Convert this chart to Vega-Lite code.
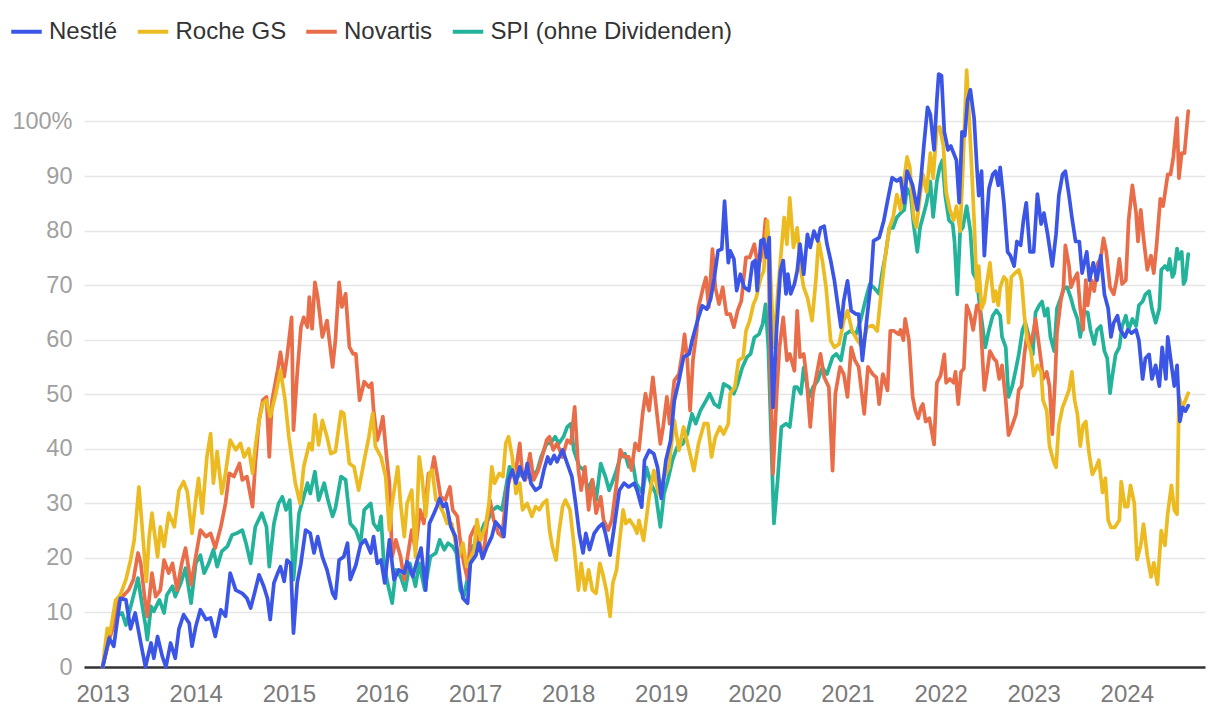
{
  "$schema": "https://vega.github.io/schema/vega-lite/v6.json",
  "width": 1121,
  "height": 611,
  "autosize": {"type": "none"},
  "padding": {"left": 84, "top": 56, "right": 15, "bottom": 49},
  "background": "white",
  "config": {"font": "Liberation Sans", "view": {"stroke": null}},
  "datasets": {
    "nestle": [
      {"t":2013.00,"v":0},{"t":2013.07,"v":5.3},{"t":2013.12,"v":3.8},{"t":2013.19,"v":12.6},{"t":2013.25,"v":12.3},{"t":2013.30,"v":7},{"t":2013.35,"v":9.9},{"t":2013.41,"v":4.4},{"t":2013.46,"v":0},{"t":2013.52,"v":4.4},{"t":2013.55,"v":1.6},{"t":2013.59,"v":5.6},{"t":2013.64,"v":2},{"t":2013.68,"v":0},{"t":2013.73,"v":4.4},{"t":2013.78,"v":1.6},{"t":2013.82,"v":7},{"t":2013.87,"v":9.6},{"t":2013.93,"v":8},{"t":2013.96,"v":3.8},
      {"t":2014.00,"v":7.4},{"t":2014.05,"v":10.5},{"t":2014.11,"v":8.7},{"t":2014.16,"v":9},{"t":2014.21,"v":5.6},{"t":2014.27,"v":10.5},{"t":2014.32,"v":9.3},{"t":2014.37,"v":17.2},{"t":2014.43,"v":14.1},{"t":2014.50,"v":13.5},{"t":2014.55,"v":12.6},{"t":2014.59,"v":10.8},{"t":2014.64,"v":14.1},{"t":2014.68,"v":16.9},{"t":2014.73,"v":14.8},{"t":2014.77,"v":12.6},{"t":2014.80,"v":8.7},{"t":2014.84,"v":15.4},{"t":2014.88,"v":17.2},{"t":2014.91,"v":18.4},{"t":2014.95,"v":15.7},{"t":2014.98,"v":19.6},
      {"t":2015.02,"v":19},{"t":2015.05,"v":6.2},{"t":2015.09,"v":15.4},{"t":2015.13,"v":19},{"t":2015.18,"v":25.1},{"t":2015.23,"v":24.5},{"t":2015.27,"v":20.9},{"t":2015.31,"v":23.9},{"t":2015.36,"v":20.2},{"t":2015.41,"v":17.8},{"t":2015.47,"v":13.5},{"t":2015.50,"v":12.6},{"t":2015.54,"v":19.6},{"t":2015.59,"v":20.2},{"t":2015.63,"v":22.7},{"t":2015.66,"v":16},{"t":2015.72,"v":18.7},{"t":2015.77,"v":22.4},{"t":2015.82,"v":23.3},{"t":2015.88,"v":20.9},{"t":2015.91,"v":23.9},{"t":2015.95,"v":19},{"t":2015.99,"v":19.6},
      {"t":2016.03,"v":15.4},{"t":2016.08,"v":23.3},{"t":2016.13,"v":16},{"t":2016.18,"v":17.8},{"t":2016.24,"v":17.2},{"t":2016.27,"v":19.3},{"t":2016.33,"v":16.6},{"t":2016.38,"v":19.6},{"t":2016.42,"v":21.8},{"t":2016.47,"v":14.1},{"t":2016.51,"v":26.3},{"t":2016.56,"v":28.2},{"t":2016.59,"v":29.4},{"t":2016.62,"v":30.9},{"t":2016.66,"v":29.4},{"t":2016.69,"v":30},{"t":2016.74,"v":25.7},{"t":2016.79,"v":23.9},{"t":2016.84,"v":16},{"t":2016.87,"v":12.6},{"t":2016.92,"v":11.7},{"t":2016.95,"v":19},
      {"t":2017.01,"v":20.5},{"t":2017.04,"v":22.7},{"t":2017.08,"v":19.9},{"t":2017.13,"v":22.1},{"t":2017.18,"v":23.9},{"t":2017.22,"v":26.6},{"t":2017.28,"v":25.4},{"t":2017.31,"v":23.9},{"t":2017.36,"v":34.3},{"t":2017.40,"v":36.1},{"t":2017.44,"v":33.7},{"t":2017.48,"v":36.7},{"t":2017.53,"v":34.3},{"t":2017.56,"v":37.3},{"t":2017.60,"v":33.7},{"t":2017.65,"v":32.4},{"t":2017.70,"v":33},{"t":2017.74,"v":36.1},{"t":2017.78,"v":38.5},{"t":2017.81,"v":37.3},{"t":2017.85,"v":38.8},{"t":2017.88,"v":37.6},{"t":2017.94,"v":39.8},{"t":2017.99,"v":37.3},
      {"t":2018.04,"v":34.9},{"t":2018.08,"v":30},{"t":2018.12,"v":24.5},{"t":2018.16,"v":20.9},{"t":2018.19,"v":24.5},{"t":2018.23,"v":21.5},{"t":2018.28,"v":24.5},{"t":2018.33,"v":25.7},{"t":2018.37,"v":26.3},{"t":2018.40,"v":24.5},{"t":2018.45,"v":20.5},{"t":2018.49,"v":25.1},{"t":2018.55,"v":32.4},{"t":2018.60,"v":33.7},{"t":2018.65,"v":33},{"t":2018.71,"v":33.7},{"t":2018.74,"v":32.4},{"t":2018.79,"v":29.3},{"t":2018.82,"v":37.9},{"t":2018.87,"v":39.7},{"t":2018.92,"v":39.1},{"t":2018.96,"v":36.6},
      {"t":2019.00,"v":30.9},{"t":2019.05,"v":37.9},{"t":2019.10,"v":41.5},{"t":2019.14,"v":48.8},{"t":2019.19,"v":52.5},{"t":2019.24,"v":56.8},{"t":2019.30,"v":57.4},{"t":2019.33,"v":59.8},{"t":2019.37,"v":62.3},{"t":2019.40,"v":64.1},{"t":2019.44,"v":66.2},{"t":2019.49,"v":65.6},{"t":2019.53,"v":67.4},{"t":2019.57,"v":71.4},{"t":2019.61,"v":76.3},{"t":2019.65,"v":76.6},{"t":2019.68,"v":85.4},{"t":2019.72,"v":74.1},{"t":2019.74,"v":76.3},{"t":2019.78,"v":74.8},{"t":2019.81,"v":69},{"t":2019.85,"v":72},{"t":2019.89,"v":69.6},{"t":2019.94,"v":69},{"t":2019.98,"v":74.1},
      {"t":2020.01,"v":74.5},{"t":2020.03,"v":69},{"t":2020.07,"v":78.1},{"t":2020.10,"v":78.4},{"t":2020.13,"v":75.1},{"t":2020.16,"v":78.7},{"t":2020.17,"v":65.3},{"t":2020.20,"v":47.6},{"t":2020.24,"v":62.3},{"t":2020.28,"v":72.6},{"t":2020.31,"v":74.5},{"t":2020.34,"v":68.4},{"t":2020.36,"v":72},{"t":2020.39,"v":68.4},{"t":2020.43,"v":70.2},{"t":2020.46,"v":72.6},{"t":2020.49,"v":77.5},{"t":2020.53,"v":72},{"t":2020.57,"v":79.3},{"t":2020.60,"v":76.9},{"t":2020.64,"v":79.9},{"t":2020.68,"v":78.1},{"t":2020.71,"v":80.5},{"t":2020.75,"v":80.8},{"t":2020.78,"v":77.5},{"t":2020.82,"v":74.5},{"t":2020.86,"v":70.8},{"t":2020.89,"v":67.1},{"t":2020.93,"v":62.3},{"t":2020.96,"v":67.1},
      {"t":2021.00,"v":70.8},{"t":2021.04,"v":65.3},{"t":2021.09,"v":64.7},{"t":2021.12,"v":64.7},{"t":2021.16,"v":56.2},{"t":2021.21,"v":64.1},{"t":2021.25,"v":70.2},{"t":2021.28,"v":78.1},{"t":2021.34,"v":78.7},{"t":2021.39,"v":81.8},{"t":2021.43,"v":85.4},{"t":2021.48,"v":89.7},{"t":2021.53,"v":89.1},{"t":2021.57,"v":89.6},{"t":2021.61,"v":85.1},{"t":2021.64,"v":90.9},{"t":2021.70,"v":88.3},{"t":2021.75,"v":83.8},{"t":2021.79,"v":89.6},{"t":2021.82,"v":95.5},{"t":2021.86,"v":102.6},{"t":2021.89,"v":101.3},{"t":2021.93,"v":94.8},{"t":2021.96,"v":103.9},{"t":2021.98,"v":108.7},
      {"t":2022.01,"v":108.4},{"t":2022.04,"v":98.1},{"t":2022.08,"v":94.8},{"t":2022.11,"v":95.5},{"t":2022.14,"v":94.2},{"t":2022.17,"v":92.9},{"t":2022.20,"v":85.1},{"t":2022.23,"v":98.1},{"t":2022.26,"v":97.4},{"t":2022.29,"v":103.9},{"t":2022.32,"v":105.8},{"t":2022.36,"v":100.6},{"t":2022.39,"v":91.6},{"t":2022.41,"v":86.4},{"t":2022.44,"v":90.9},{"t":2022.47,"v":75.4},{"t":2022.50,"v":83.2},{"t":2022.52,"v":87.7},{"t":2022.56,"v":90.3},{"t":2022.59,"v":90.9},{"t":2022.62,"v":88.3},{"t":2022.64,"v":91.6},{"t":2022.68,"v":85.1},{"t":2022.72,"v":76.1},{"t":2022.75,"v":75.4},{"t":2022.79,"v":73.5},{"t":2022.82,"v":78},{"t":2022.86,"v":77.3},{"t":2022.89,"v":81.9},{"t":2022.92,"v":85.1},{"t":2022.96,"v":76.1},
      {"t":2023.00,"v":76.1},{"t":2023.04,"v":86.7},{"t":2023.08,"v":81.2},{"t":2023.11,"v":83.2},{"t":2023.15,"v":79.3},{"t":2023.20,"v":73.5},{"t":2023.24,"v":79.3},{"t":2023.27,"v":86.4},{"t":2023.31,"v":90.3},{"t":2023.34,"v":90.9},{"t":2023.38,"v":86.4},{"t":2023.41,"v":82.5},{"t":2023.45,"v":78},{"t":2023.49,"v":78},{"t":2023.52,"v":72.2},{"t":2023.57,"v":76.1},{"t":2023.60,"v":70.9},{"t":2023.64,"v":74.1},{"t":2023.68,"v":70.9},{"t":2023.72,"v":75.4},{"t":2023.76,"v":68.3},{"t":2023.80,"v":65.7},{"t":2023.83,"v":60.5},{"t":2023.86,"v":63.1},{"t":2023.90,"v":64.4},{"t":2023.93,"v":61.8},{"t":2023.98,"v":60.5},
      {"t":2024.01,"v":61.8},{"t":2024.05,"v":61.2},{"t":2024.10,"v":61.8},{"t":2024.13,"v":59.9},{"t":2024.17,"v":52.8},{"t":2024.20,"v":56.6},{"t":2024.24,"v":57.3},{"t":2024.27,"v":52.8},{"t":2024.31,"v":55.3},{"t":2024.35,"v":51.5},{"t":2024.38,"v":58.6},{"t":2024.42,"v":52.8},{"t":2024.44,"v":60.5},{"t":2024.48,"v":55.3},{"t":2024.51,"v":51.5},{"t":2024.54,"v":55.3},{"t":2024.57,"v":45},{"t":2024.60,"v":47.6},{"t":2024.63,"v":46.9},{"t":2024.66,"v":47.9}
    ],
    "roche": [
      {"t":2013.00,"v":0},{"t":2013.05,"v":7.1},{"t":2013.08,"v":6.2},{"t":2013.14,"v":12.3},{"t":2013.19,"v":13.2},{"t":2013.25,"v":16},{"t":2013.30,"v":19.6},{"t":2013.34,"v":23.3},{"t":2013.39,"v":33},{"t":2013.43,"v":24.5},{"t":2013.47,"v":15.7},{"t":2013.50,"v":23.9},{"t":2013.53,"v":28.2},{"t":2013.59,"v":20.2},{"t":2013.62,"v":25.7},{"t":2013.66,"v":22.1},{"t":2013.71,"v":28.2},{"t":2013.77,"v":25.7},{"t":2013.82,"v":32.4},{"t":2013.87,"v":34},{"t":2013.91,"v":32.1},{"t":2013.96,"v":24.5},
      {"t":2014.00,"v":30.6},{"t":2014.03,"v":34.6},{"t":2014.07,"v":28.2},{"t":2014.12,"v":38.5},{"t":2014.16,"v":42.8},{"t":2014.19,"v":33.7},{"t":2014.23,"v":39.5},{"t":2014.28,"v":31.8},{"t":2014.32,"v":35.5},{"t":2014.37,"v":41.6},{"t":2014.43,"v":39.8},{"t":2014.48,"v":41},{"t":2014.52,"v":38.5},{"t":2014.57,"v":40},{"t":2014.61,"v":35.5},{"t":2014.64,"v":40.4},{"t":2014.68,"v":45.2},{"t":2014.72,"v":48.3},{"t":2014.76,"v":48.9},{"t":2014.80,"v":45.9},{"t":2014.86,"v":50.1},{"t":2014.91,"v":54.4},{"t":2014.96,"v":48.9},
      {"t":2015.00,"v":42.2},{"t":2015.07,"v":33.7},{"t":2015.12,"v":30},{"t":2015.16,"v":36.7},{"t":2015.22,"v":41},{"t":2015.25,"v":39.8},{"t":2015.28,"v":46.2},{"t":2015.32,"v":40.7},{"t":2015.36,"v":45.2},{"t":2015.41,"v":42.2},{"t":2015.45,"v":39.1},{"t":2015.50,"v":39.5},{"t":2015.56,"v":46.8},{"t":2015.59,"v":46.5},{"t":2015.65,"v":37.3},{"t":2015.70,"v":36.7},{"t":2015.75,"v":32.4},{"t":2015.81,"v":37.9},{"t":2015.86,"v":42.2},{"t":2015.90,"v":46.5},{"t":2015.93,"v":40.4},{"t":2015.99,"v":38.5},
      {"t":2016.04,"v":34.9},{"t":2016.08,"v":25.1},{"t":2016.11,"v":30},{"t":2016.17,"v":36.7},{"t":2016.20,"v":30},{"t":2016.24,"v":23.9},{"t":2016.27,"v":30},{"t":2016.32,"v":32.4},{"t":2016.36,"v":20.2},{"t":2016.40,"v":38.5},{"t":2016.43,"v":34.9},{"t":2016.47,"v":27.6},{"t":2016.51,"v":35.5},{"t":2016.54,"v":36.1},{"t":2016.58,"v":30.6},{"t":2016.61,"v":30},{"t":2016.66,"v":28.2},{"t":2016.70,"v":26.3},{"t":2016.75,"v":26.3},{"t":2016.79,"v":22.7},{"t":2016.83,"v":20.2},{"t":2016.87,"v":22.7},{"t":2016.91,"v":18.4},{"t":2016.94,"v":19.6},{"t":2016.99,"v":21.5},
      {"t":2017.02,"v":27},{"t":2017.06,"v":23.3},{"t":2017.11,"v":25.7},{"t":2017.15,"v":30},{"t":2017.18,"v":36.7},{"t":2017.21,"v":33.7},{"t":2017.26,"v":35.5},{"t":2017.30,"v":34.9},{"t":2017.33,"v":41},{"t":2017.36,"v":42.2},{"t":2017.40,"v":38.5},{"t":2017.44,"v":31.8},{"t":2017.48,"v":33.7},{"t":2017.51,"v":28.8},{"t":2017.56,"v":30},{"t":2017.61,"v":27.6},{"t":2017.65,"v":29.4},{"t":2017.69,"v":28.8},{"t":2017.73,"v":30},{"t":2017.77,"v":30.6},{"t":2017.80,"v":25.1},{"t":2017.83,"v":22.1},{"t":2017.87,"v":19.6},{"t":2017.90,"v":24.5},{"t":2017.94,"v":29.4},{"t":2017.97,"v":30.6},
      {"t":2018.02,"v":28.8},{"t":2018.06,"v":22.7},{"t":2018.11,"v":14.1},{"t":2018.14,"v":19},{"t":2018.18,"v":14.1},{"t":2018.22,"v":17.8},{"t":2018.26,"v":14.1},{"t":2018.30,"v":13.5},{"t":2018.34,"v":19},{"t":2018.37,"v":17.2},{"t":2018.41,"v":14.1},{"t":2018.45,"v":9.3},{"t":2018.48,"v":15.4},{"t":2018.52,"v":17.8},{"t":2018.55,"v":22.7},{"t":2018.59,"v":28.8},{"t":2018.62,"v":26.3},{"t":2018.66,"v":27},{"t":2018.71,"v":25.7},{"t":2018.74,"v":24.5},{"t":2018.76,"v":26.9},{"t":2018.81,"v":23.2},{"t":2018.87,"v":31.2},{"t":2018.92,"v":36},{"t":2018.97,"v":31.8},
      {"t":2019.03,"v":34.8},{"t":2019.08,"v":36.6},{"t":2019.14,"v":45.2},{"t":2019.19,"v":39.7},{"t":2019.24,"v":44},{"t":2019.30,"v":39.7},{"t":2019.35,"v":36},{"t":2019.40,"v":40.9},{"t":2019.46,"v":44.6},{"t":2019.50,"v":44.6},{"t":2019.54,"v":38.5},{"t":2019.58,"v":42.1},{"t":2019.63,"v":44},{"t":2019.67,"v":42.7},{"t":2019.72,"v":44.6},{"t":2019.74,"v":50.1},{"t":2019.79,"v":51.3},{"t":2019.83,"v":56.2},{"t":2019.88,"v":56.8},{"t":2019.91,"v":61.6},{"t":2019.95,"v":63.5},{"t":2019.99,"v":66.5},
      {"t":2020.02,"v":67.7},{"t":2020.07,"v":71.4},{"t":2020.10,"v":72.6},{"t":2020.14,"v":81.8},{"t":2020.17,"v":73.2},{"t":2020.21,"v":58.6},{"t":2020.25,"v":68.4},{"t":2020.28,"v":74.5},{"t":2020.32,"v":82.4},{"t":2020.35,"v":77.5},{"t":2020.38,"v":86},{"t":2020.42,"v":76.9},{"t":2020.46,"v":80.5},{"t":2020.50,"v":72.6},{"t":2020.53,"v":69.6},{"t":2020.57,"v":67.7},{"t":2020.62,"v":63.5},{"t":2020.66,"v":70.8},{"t":2020.69,"v":78.1},{"t":2020.73,"v":74.5},{"t":2020.77,"v":69.6},{"t":2020.82,"v":59.8},{"t":2020.86,"v":58.6},{"t":2020.91,"v":59.2},{"t":2020.96,"v":63.5},
      {"t":2021.00,"v":65.3},{"t":2021.05,"v":61.6},{"t":2021.11,"v":59.8},{"t":2021.16,"v":58.6},{"t":2021.21,"v":62.3},{"t":2021.27,"v":62.6},{"t":2021.32,"v":61.6},{"t":2021.36,"v":68.4},{"t":2021.40,"v":74.5},{"t":2021.45,"v":80.5},{"t":2021.49,"v":82.4},{"t":2021.53,"v":86.6},{"t":2021.57,"v":83.8},{"t":2021.61,"v":89.6},{"t":2021.64,"v":93.5},{"t":2021.67,"v":91.6},{"t":2021.71,"v":82.5},{"t":2021.74,"v":80.6},{"t":2021.78,"v":86.4},{"t":2021.81,"v":90.3},{"t":2021.85,"v":87.1},{"t":2021.89,"v":94.2},{"t":2021.92,"v":89.6},{"t":2021.96,"v":98.7},{"t":2021.99,"v":99},
      {"t":2022.03,"v":95.5},{"t":2022.06,"v":87.1},{"t":2022.10,"v":83.8},{"t":2022.14,"v":81.9},{"t":2022.17,"v":84.5},{"t":2022.21,"v":79.9},{"t":2022.24,"v":91.6},{"t":2022.28,"v":109.4},{"t":2022.30,"v":103.2},{"t":2022.33,"v":92.9},{"t":2022.36,"v":81.9},{"t":2022.39,"v":68.9},{"t":2022.41,"v":73.5},{"t":2022.44,"v":65.7},{"t":2022.47,"v":67},{"t":2022.49,"v":69.6},{"t":2022.53,"v":74.1},{"t":2022.57,"v":67},{"t":2022.59,"v":68.9},{"t":2022.62,"v":66.3},{"t":2022.64,"v":69.6},{"t":2022.68,"v":71.5},{"t":2022.71,"v":70.9},{"t":2022.73,"v":63.1},{"t":2022.76,"v":71.5},{"t":2022.80,"v":72.2},{"t":2022.84,"v":72.8},{"t":2022.87,"v":70.9},{"t":2022.90,"v":64.4},{"t":2022.93,"v":59.9},{"t":2022.97,"v":57.9},
      {"t":2023.00,"v":53.4},{"t":2023.04,"v":55.3},{"t":2023.08,"v":54.1},{"t":2023.10,"v":48.9},{"t":2023.14,"v":47},{"t":2023.17,"v":40.5},{"t":2023.21,"v":37.9},{"t":2023.24,"v":36.6},{"t":2023.27,"v":44.3},{"t":2023.31,"v":47.6},{"t":2023.34,"v":48.9},{"t":2023.38,"v":50.8},{"t":2023.41,"v":54.1},{"t":2023.44,"v":48.9},{"t":2023.47,"v":46.3},{"t":2023.50,"v":40.5},{"t":2023.53,"v":44.3},{"t":2023.56,"v":45},{"t":2023.59,"v":39.8},{"t":2023.63,"v":35.3},{"t":2023.67,"v":36.6},{"t":2023.70,"v":37.9},{"t":2023.74,"v":32},{"t":2023.77,"v":34.6},{"t":2023.80,"v":26.9},{"t":2023.83,"v":25.6},{"t":2023.87,"v":25.6},{"t":2023.92,"v":26.9},{"t":2023.94,"v":34},{"t":2023.98,"v":29.4},
      {"t":2024.01,"v":29.4},{"t":2024.04,"v":33.3},{"t":2024.08,"v":30.1},{"t":2024.11,"v":19.7},{"t":2024.15,"v":22.3},{"t":2024.18,"v":26.2},{"t":2024.22,"v":20.4},{"t":2024.26,"v":16.5},{"t":2024.29,"v":19.1},{"t":2024.33,"v":15.2},{"t":2024.37,"v":25},{"t":2024.41,"v":22.3},{"t":2024.44,"v":28.2},{"t":2024.48,"v":33.3},{"t":2024.51,"v":28.8},{"t":2024.54,"v":28},{"t":2024.56,"v":49.5},{"t":2024.60,"v":47.6},{"t":2024.63,"v":48.9},{"t":2024.66,"v":50.2}
    ],
    "novartis": [
      {"t":2013.00,"v":0},{"t":2013.07,"v":5},{"t":2013.12,"v":7.7},{"t":2013.17,"v":12.3},{"t":2013.23,"v":13.2},{"t":2013.28,"v":14.1},{"t":2013.33,"v":16},{"t":2013.38,"v":20.9},{"t":2013.41,"v":19},{"t":2013.45,"v":12.9},{"t":2013.48,"v":9.3},{"t":2013.53,"v":17.2},{"t":2013.57,"v":12.9},{"t":2013.62,"v":14.1},{"t":2013.66,"v":19.6},{"t":2013.71,"v":17.2},{"t":2013.75,"v":19},{"t":2013.80,"v":14.1},{"t":2013.85,"v":19},{"t":2013.89,"v":21.8},{"t":2013.95,"v":15.1},
      {"t":2014.00,"v":20.2},{"t":2014.05,"v":25.1},{"t":2014.11,"v":23.9},{"t":2014.16,"v":24.5},{"t":2014.21,"v":21.8},{"t":2014.27,"v":25.7},{"t":2014.32,"v":30},{"t":2014.36,"v":35.5},{"t":2014.41,"v":34.9},{"t":2014.47,"v":37.3},{"t":2014.50,"v":34.3},{"t":2014.55,"v":34.9},{"t":2014.61,"v":29.4},{"t":2014.64,"v":37.3},{"t":2014.68,"v":45.2},{"t":2014.72,"v":48.9},{"t":2014.76,"v":49.5},{"t":2014.79,"v":38.5},{"t":2014.82,"v":48.9},{"t":2014.88,"v":54.4},{"t":2014.91,"v":57.7},{"t":2014.95,"v":53.2},{"t":2014.98,"v":56.8},
      {"t":2015.03,"v":64.1},{"t":2015.05,"v":43.4},{"t":2015.09,"v":53.8},{"t":2015.13,"v":62.3},{"t":2015.16,"v":64.1},{"t":2015.20,"v":62.3},{"t":2015.22,"v":67.8},{"t":2015.25,"v":62},{"t":2015.28,"v":70.5},{"t":2015.31,"v":67.8},{"t":2015.36,"v":60.5},{"t":2015.41,"v":63.5},{"t":2015.47,"v":55},{"t":2015.50,"v":59.9},{"t":2015.54,"v":70.5},{"t":2015.57,"v":66},{"t":2015.61,"v":68.4},{"t":2015.65,"v":58.7},{"t":2015.69,"v":57.4},{"t":2015.72,"v":57.4},{"t":2015.76,"v":48.9},{"t":2015.81,"v":52.3},{"t":2015.86,"v":51.3},{"t":2015.89,"v":52},{"t":2015.91,"v":47.1},{"t":2015.95,"v":41.6},{"t":2015.98,"v":43.4},
      {"t":2016.01,"v":45.9},{"t":2016.05,"v":38.5},{"t":2016.08,"v":33.7},{"t":2016.11,"v":20.2},{"t":2016.15,"v":23.3},{"t":2016.20,"v":20.2},{"t":2016.24,"v":16},{"t":2016.27,"v":19.6},{"t":2016.32,"v":25.1},{"t":2016.36,"v":21.5},{"t":2016.41,"v":28.8},{"t":2016.45,"v":26.3},{"t":2016.50,"v":35.5},{"t":2016.53,"v":35.5},{"t":2016.56,"v":38.5},{"t":2016.59,"v":35.5},{"t":2016.63,"v":31.2},{"t":2016.68,"v":30.6},{"t":2016.73,"v":33},{"t":2016.76,"v":28.8},{"t":2016.81,"v":27.6},{"t":2016.84,"v":23.3},{"t":2016.88,"v":19},{"t":2016.92,"v":16},{"t":2016.95,"v":23.9},
      {"t":2017.00,"v":25.7},{"t":2017.04,"v":23.3},{"t":2017.09,"v":20.2},{"t":2017.12,"v":25.1},{"t":2017.16,"v":30.6},{"t":2017.20,"v":27},{"t":2017.25,"v":24.5},{"t":2017.29,"v":23.9},{"t":2017.34,"v":32.4},{"t":2017.38,"v":34.9},{"t":2017.44,"v":36.1},{"t":2017.48,"v":41},{"t":2017.51,"v":34.9},{"t":2017.54,"v":34.3},{"t":2017.59,"v":39.1},{"t":2017.63,"v":34.3},{"t":2017.68,"v":36.1},{"t":2017.72,"v":38.5},{"t":2017.77,"v":41.6},{"t":2017.80,"v":42.2},{"t":2017.84,"v":39.8},{"t":2017.88,"v":41},{"t":2017.94,"v":38.5},{"t":2017.99,"v":41.6},
      {"t":2018.03,"v":41},{"t":2018.07,"v":47.7},{"t":2018.11,"v":36.1},{"t":2018.14,"v":32.4},{"t":2018.18,"v":36.7},{"t":2018.22,"v":28.8},{"t":2018.26,"v":34.3},{"t":2018.30,"v":28.2},{"t":2018.35,"v":31.2},{"t":2018.38,"v":27},{"t":2018.43,"v":25.1},{"t":2018.47,"v":27},{"t":2018.52,"v":33.7},{"t":2018.56,"v":39.8},{"t":2018.60,"v":38.5},{"t":2018.65,"v":38.5},{"t":2018.68,"v":36.1},{"t":2018.72,"v":41},{"t":2018.76,"v":39.7},{"t":2018.80,"v":46.4},{"t":2018.83,"v":50.1},{"t":2018.87,"v":47},{"t":2018.91,"v":53.1},{"t":2018.95,"v":47},{"t":2018.99,"v":40.9},
      {"t":2019.02,"v":44},{"t":2019.06,"v":49.5},{"t":2019.09,"v":44.6},{"t":2019.14,"v":52.5},{"t":2019.19,"v":53.7},{"t":2019.23,"v":58},{"t":2019.25,"v":61},{"t":2019.28,"v":56.2},{"t":2019.31,"v":47},{"t":2019.34,"v":56.2},{"t":2019.38,"v":61.6},{"t":2019.40,"v":65.9},{"t":2019.45,"v":69.6},{"t":2019.48,"v":71.4},{"t":2019.51,"v":65.9},{"t":2019.55,"v":76.6},{"t":2019.58,"v":69.6},{"t":2019.62,"v":66.5},{"t":2019.66,"v":69.6},{"t":2019.70,"v":64.7},{"t":2019.74,"v":64.7},{"t":2019.78,"v":62.3},{"t":2019.82,"v":65.3},{"t":2019.86,"v":67.1},{"t":2019.91,"v":75.1},{"t":2019.95,"v":75.1},
      {"t":2020.00,"v":77.5},{"t":2020.04,"v":73.2},{"t":2020.09,"v":76.3},{"t":2020.12,"v":82.1},{"t":2020.15,"v":78.7},{"t":2020.17,"v":56.2},{"t":2020.20,"v":35.4},{"t":2020.24,"v":50.1},{"t":2020.27,"v":58.6},{"t":2020.31,"v":64.1},{"t":2020.35,"v":56.2},{"t":2020.38,"v":57.4},{"t":2020.43,"v":54.3},{"t":2020.46,"v":65.3},{"t":2020.49,"v":56.8},{"t":2020.53,"v":57.4},{"t":2020.56,"v":53.1},{"t":2020.60,"v":44},{"t":2020.63,"v":50.1},{"t":2020.67,"v":53.7},{"t":2020.71,"v":57.4},{"t":2020.75,"v":53.1},{"t":2020.80,"v":51.3},{"t":2020.84,"v":36},{"t":2020.87,"v":50.1},{"t":2020.92,"v":55},{"t":2020.96,"v":53.7},
      {"t":2021.00,"v":49.5},{"t":2021.04,"v":58.6},{"t":2021.08,"v":56.2},{"t":2021.12,"v":55},{"t":2021.18,"v":46.4},{"t":2021.22,"v":55},{"t":2021.27,"v":53.7},{"t":2021.31,"v":53.1},{"t":2021.34,"v":48.2},{"t":2021.38,"v":53.7},{"t":2021.43,"v":50.7},{"t":2021.46,"v":61.6},{"t":2021.50,"v":61.6},{"t":2021.55,"v":61},{"t":2021.57,"v":61.8},{"t":2021.60,"v":59.9},{"t":2021.62,"v":63.8},{"t":2021.66,"v":59.9},{"t":2021.70,"v":49.5},{"t":2021.73,"v":46.9},{"t":2021.76,"v":45.6},{"t":2021.79,"v":47.6},{"t":2021.81,"v":48.2},{"t":2021.84,"v":45},{"t":2021.88,"v":45.6},{"t":2021.90,"v":43.7},{"t":2021.93,"v":40.8},{"t":2021.96,"v":52.1},
      {"t":2022.00,"v":53.4},{"t":2022.04,"v":57.3},{"t":2022.06,"v":52.1},{"t":2022.10,"v":52.8},{"t":2022.14,"v":52.1},{"t":2022.16,"v":54.1},{"t":2022.19,"v":48.2},{"t":2022.22,"v":54.1},{"t":2022.25,"v":54.7},{"t":2022.28,"v":66.3},{"t":2022.32,"v":64.4},{"t":2022.35,"v":61.8},{"t":2022.39,"v":66.3},{"t":2022.42,"v":66.3},{"t":2022.44,"v":59.9},{"t":2022.47,"v":50.8},{"t":2022.50,"v":54.1},{"t":2022.53,"v":57.9},{"t":2022.57,"v":56.6},{"t":2022.60,"v":56},{"t":2022.63,"v":52.8},{"t":2022.66,"v":55.3},{"t":2022.70,"v":48.9},{"t":2022.73,"v":42.5},{"t":2022.77,"v":44.3},{"t":2022.81,"v":46.3},{"t":2022.84,"v":50.8},{"t":2022.87,"v":51.5},{"t":2022.90,"v":57.3},{"t":2022.93,"v":61.2},{"t":2022.97,"v":59.2},
      {"t":2023.00,"v":61.8},{"t":2023.02,"v":63.8},{"t":2023.05,"v":59.9},{"t":2023.08,"v":56},{"t":2023.10,"v":52.8},{"t":2023.14,"v":54.1},{"t":2023.17,"v":51.5},{"t":2023.20,"v":42.7},{"t":2023.23,"v":52.8},{"t":2023.25,"v":61.2},{"t":2023.29,"v":67},{"t":2023.32,"v":69.6},{"t":2023.34,"v":77.3},{"t":2023.38,"v":73.5},{"t":2023.40,"v":69.6},{"t":2023.43,"v":70.9},{"t":2023.47,"v":72.2},{"t":2023.50,"v":65.7},{"t":2023.53,"v":61.8},{"t":2023.56,"v":70.9},{"t":2023.58,"v":66.3},{"t":2023.62,"v":70.9},{"t":2023.65,"v":68.9},{"t":2023.69,"v":74.1},{"t":2023.72,"v":74.8},{"t":2023.75,"v":78.6},{"t":2023.78,"v":76.1},{"t":2023.82,"v":69.6},{"t":2023.86,"v":68.3},{"t":2023.89,"v":70.9},{"t":2023.92,"v":74.8},{"t":2023.95,"v":70.2},{"t":2023.99,"v":70.9},
      {"t":2024.02,"v":81.9},{"t":2024.06,"v":88.3},{"t":2024.10,"v":83.2},{"t":2024.12,"v":78},{"t":2024.15,"v":83.8},{"t":2024.18,"v":78.6},{"t":2024.22,"v":72.8},{"t":2024.26,"v":75.4},{"t":2024.29,"v":72.2},{"t":2024.32,"v":77.3},{"t":2024.36,"v":85.8},{"t":2024.39,"v":84.5},{"t":2024.44,"v":90.3},{"t":2024.47,"v":90.3},{"t":2024.50,"v":93.5},{"t":2024.54,"v":100.6},{"t":2024.56,"v":89.6},{"t":2024.59,"v":94.2},{"t":2024.62,"v":94.2},{"t":2024.66,"v":101.9}
    ],
    "spi": [
      {"t":2013.00,"v":0},{"t":2013.07,"v":5.3},{"t":2013.14,"v":9.3},{"t":2013.21,"v":9.9},{"t":2013.25,"v":7.7},{"t":2013.32,"v":12.3},{"t":2013.38,"v":16.3},{"t":2013.41,"v":12.9},{"t":2013.46,"v":7.7},{"t":2013.48,"v":5},{"t":2013.52,"v":11.1},{"t":2013.55,"v":10.2},{"t":2013.61,"v":12.3},{"t":2013.66,"v":9.9},{"t":2013.69,"v":13.2},{"t":2013.75,"v":14.8},{"t":2013.78,"v":12.9},{"t":2013.84,"v":15.4},{"t":2013.89,"v":18.1},{"t":2013.95,"v":11.7},
      {"t":2014.00,"v":19},{"t":2014.05,"v":20.5},{"t":2014.09,"v":17.2},{"t":2014.14,"v":19},{"t":2014.19,"v":21.5},{"t":2014.23,"v":18.4},{"t":2014.28,"v":21.2},{"t":2014.34,"v":22.1},{"t":2014.39,"v":24.2},{"t":2014.44,"v":24.5},{"t":2014.50,"v":25.1},{"t":2014.54,"v":22.7},{"t":2014.59,"v":19},{"t":2014.64,"v":25.7},{"t":2014.71,"v":28.2},{"t":2014.76,"v":25.7},{"t":2014.79,"v":18.4},{"t":2014.84,"v":26.3},{"t":2014.89,"v":30},{"t":2014.93,"v":31.2},{"t":2014.97,"v":28.8},
      {"t":2015.01,"v":30.6},{"t":2015.05,"v":16},{"t":2015.11,"v":28.2},{"t":2015.16,"v":31.2},{"t":2015.20,"v":33.7},{"t":2015.23,"v":31.8},{"t":2015.28,"v":35.8},{"t":2015.32,"v":30.6},{"t":2015.38,"v":33.7},{"t":2015.42,"v":30.6},{"t":2015.47,"v":27.6},{"t":2015.50,"v":29.1},{"t":2015.56,"v":34.9},{"t":2015.61,"v":34.3},{"t":2015.66,"v":26.3},{"t":2015.72,"v":25.1},{"t":2015.77,"v":22.7},{"t":2015.81,"v":28.8},{"t":2015.88,"v":30},{"t":2015.91,"v":26.3},{"t":2015.96,"v":25.1},{"t":2015.99,"v":27.6},
      {"t":2016.02,"v":19},{"t":2016.06,"v":15.4},{"t":2016.11,"v":11.7},{"t":2016.15,"v":17.8},{"t":2016.20,"v":16.6},{"t":2016.25,"v":14.1},{"t":2016.30,"v":19},{"t":2016.36,"v":14.8},{"t":2016.40,"v":19},{"t":2016.46,"v":14.1},{"t":2016.52,"v":20.2},{"t":2016.58,"v":20.9},{"t":2016.62,"v":23.3},{"t":2016.67,"v":21.5},{"t":2016.71,"v":22.7},{"t":2016.76,"v":22.1},{"t":2016.80,"v":20.9},{"t":2016.84,"v":14.1},{"t":2016.88,"v":12.9},{"t":2016.93,"v":17.2},{"t":2016.97,"v":22.1},
      {"t":2017.02,"v":22.7},{"t":2017.06,"v":24.5},{"t":2017.10,"v":26.3},{"t":2017.14,"v":27},{"t":2017.19,"v":28.8},{"t":2017.24,"v":29.4},{"t":2017.29,"v":28.8},{"t":2017.34,"v":33.7},{"t":2017.37,"v":36.7},{"t":2017.42,"v":36.1},{"t":2017.46,"v":34.9},{"t":2017.51,"v":35.5},{"t":2017.56,"v":34.9},{"t":2017.62,"v":34.9},{"t":2017.67,"v":36.1},{"t":2017.71,"v":38.5},{"t":2017.77,"v":41},{"t":2017.81,"v":41},{"t":2017.86,"v":42.2},{"t":2017.90,"v":41},{"t":2017.95,"v":42.2},{"t":2017.99,"v":44},
      {"t":2018.03,"v":44.6},{"t":2018.06,"v":39.8},{"t":2018.12,"v":36.7},{"t":2018.17,"v":36.1},{"t":2018.21,"v":32.4},{"t":2018.26,"v":34.3},{"t":2018.30,"v":30.6},{"t":2018.35,"v":37.3},{"t":2018.40,"v":34.9},{"t":2018.44,"v":32.4},{"t":2018.47,"v":33.7},{"t":2018.52,"v":36.1},{"t":2018.56,"v":38.5},{"t":2018.61,"v":39.1},{"t":2018.65,"v":36.7},{"t":2018.69,"v":37.9},{"t":2018.73,"v":33.7},{"t":2018.80,"v":31.8},{"t":2018.84,"v":36.6},{"t":2018.89,"v":33.6},{"t":2018.94,"v":31.8},{"t":2018.99,"v":25.7},
      {"t":2019.03,"v":31.8},{"t":2019.07,"v":34.2},{"t":2019.12,"v":37.9},{"t":2019.17,"v":40.3},{"t":2019.23,"v":40.9},{"t":2019.28,"v":42.7},{"t":2019.33,"v":46.4},{"t":2019.37,"v":44.6},{"t":2019.42,"v":47},{"t":2019.48,"v":48.8},{"t":2019.52,"v":50.1},{"t":2019.57,"v":48.2},{"t":2019.62,"v":47.6},{"t":2019.67,"v":51.9},{"t":2019.73,"v":51.3},{"t":2019.78,"v":50.1},{"t":2019.82,"v":51.9},{"t":2019.87,"v":54.9},{"t":2019.92,"v":56.8},{"t":2019.96,"v":57.4},
      {"t":2020.00,"v":60.4},{"t":2020.05,"v":61},{"t":2020.09,"v":62.9},{"t":2020.12,"v":66.5},{"t":2020.15,"v":58.6},{"t":2020.17,"v":47.6},{"t":2020.21,"v":26.3},{"t":2020.25,"v":34.2},{"t":2020.29,"v":44},{"t":2020.34,"v":44.6},{"t":2020.38,"v":44},{"t":2020.43,"v":51.3},{"t":2020.46,"v":51.3},{"t":2020.50,"v":50.1},{"t":2020.53,"v":54.9},{"t":2020.59,"v":49.5},{"t":2020.63,"v":51.3},{"t":2020.68,"v":52.5},{"t":2020.73,"v":54.9},{"t":2020.78,"v":53.7},{"t":2020.84,"v":56.8},{"t":2020.88,"v":57.4},{"t":2020.93,"v":56.2},{"t":2020.98,"v":61},
      {"t":2021.03,"v":61.6},{"t":2021.09,"v":61},{"t":2021.14,"v":63.5},{"t":2021.20,"v":67.7},{"t":2021.24,"v":70.2},{"t":2021.28,"v":69.6},{"t":2021.34,"v":68.4},{"t":2021.37,"v":72},{"t":2021.41,"v":75.7},{"t":2021.45,"v":80.5},{"t":2021.49,"v":80.5},{"t":2021.53,"v":82.4},{"t":2021.57,"v":83.2},{"t":2021.61,"v":83.8},{"t":2021.64,"v":87.7},{"t":2021.68,"v":86.4},{"t":2021.71,"v":81.2},{"t":2021.75,"v":76.1},{"t":2021.78,"v":80.6},{"t":2021.81,"v":82.5},{"t":2021.85,"v":85.1},{"t":2021.89,"v":89},{"t":2021.92,"v":82.5},{"t":2021.96,"v":89},{"t":2021.99,"v":91.6},
      {"t":2022.02,"v":92.9},{"t":2022.05,"v":86.4},{"t":2022.09,"v":81.9},{"t":2022.13,"v":81.2},{"t":2022.15,"v":78},{"t":2022.18,"v":68.3},{"t":2022.21,"v":79.9},{"t":2022.24,"v":80.6},{"t":2022.28,"v":84.5},{"t":2022.32,"v":79.9},{"t":2022.35,"v":72.2},{"t":2022.39,"v":70.9},{"t":2022.42,"v":66.3},{"t":2022.45,"v":62.5},{"t":2022.48,"v":58.6},{"t":2022.52,"v":61.8},{"t":2022.56,"v":64.4},{"t":2022.60,"v":65.4},{"t":2022.64,"v":64.4},{"t":2022.66,"v":60.5},{"t":2022.70,"v":58.6},{"t":2022.73,"v":49.5},{"t":2022.77,"v":51.5},{"t":2022.81,"v":54.7},{"t":2022.84,"v":57.3},{"t":2022.88,"v":61.8},{"t":2022.91,"v":63.1},{"t":2022.95,"v":60.5},{"t":2022.99,"v":57.3},
      {"t":2023.02,"v":65},{"t":2023.06,"v":66.3},{"t":2023.09,"v":67},{"t":2023.12,"v":64.4},{"t":2023.15,"v":65.7},{"t":2023.18,"v":60.5},{"t":2023.22,"v":57.9},{"t":2023.25,"v":65.7},{"t":2023.29,"v":67.6},{"t":2023.33,"v":69.6},{"t":2023.36,"v":69.6},{"t":2023.40,"v":67.6},{"t":2023.43,"v":65.7},{"t":2023.47,"v":63.8},{"t":2023.50,"v":60.5},{"t":2023.54,"v":65},{"t":2023.58,"v":65},{"t":2023.61,"v":61.8},{"t":2023.65,"v":59.2},{"t":2023.68,"v":61.8},{"t":2023.72,"v":62.5},{"t":2023.76,"v":57.9},{"t":2023.79,"v":56.6},{"t":2023.82,"v":50.2},{"t":2023.84,"v":52.8},{"t":2023.88,"v":57.3},{"t":2023.92,"v":58.6},{"t":2023.95,"v":62.5},{"t":2023.99,"v":64.4},
      {"t":2024.02,"v":61.8},{"t":2024.06,"v":63.8},{"t":2024.10,"v":62.5},{"t":2024.13,"v":66.3},{"t":2024.17,"v":67},{"t":2024.20,"v":68.3},{"t":2024.24,"v":68.9},{"t":2024.27,"v":65.7},{"t":2024.31,"v":63.1},{"t":2024.35,"v":65.7},{"t":2024.37,"v":72.8},{"t":2024.41,"v":73.5},{"t":2024.44,"v":72.8},{"t":2024.46,"v":74.8},{"t":2024.49,"v":71.5},{"t":2024.51,"v":72.2},{"t":2024.54,"v":76.7},{"t":2024.56,"v":74.8},{"t":2024.59,"v":76.1},{"t":2024.61,"v":70.2},{"t":2024.63,"v":70.9},{"t":2024.66,"v":75.7}
    ]
  },
  "encoding": {
    "x": {
      "field": "t", "type": "quantitative",
      "scale": {"domain": [2012.8, 2024.84], "nice": false, "zero": false},
      "axis": {"values": [2013,2014,2015,2016,2017,2018,2019,2020,2021,2022,2023,2024], "format": "d", "title": null, "grid": false, "ticks": false, "domainColor": "#333333", "domainWidth": 2.5, "labelColor": "#7a7a7a", "labelFontSize": 24, "labelPadding": 15}
    },
    "y": {
      "field": "v", "type": "quantitative",
      "scale": {"domain": [0, 112], "nice": false},
      "axis": {"values": [0,10,20,30,40,50,60,70,80,90,100], "title": null, "domain": false, "ticks": false, "labelColor": "#a0a0a0", "labelFontSize": 23.5, "labelPadding": 12, "gridColor": "#e6e6e6", "gridWidth": 1.5, "labelExpr": "datum.value == 100 ? '100%' : datum.label"}
    }
  },
  "layer": [
    {
      "data": {"name": "spi"},
      "mark": {"type": "line", "strokeWidth": 3.7, "strokeJoin": "round", "strokeCap": "round"},
      "encoding": {
        "color": {
          "datum": "SPI (ohne Dividenden)", "type": "nominal",
          "scale": {"domain": ["Nestlé", "Roche GS", "Novartis", "SPI (ohne Dividenden)"], "range": ["#3b55e6", "#ecbb22", "#e86d48", "#23b29a"]},
          "legend": {"title": null, "orient": "none", "legendX": -75, "legendY": -42, "direction": "horizontal", "symbolType": "stroke", "symbolSize": 930, "symbolStrokeWidth": 4, "labelFontSize": 24, "labelColor": "#333333", "labelOffset": 5, "labelLimit": 0, "columnPadding": 11.5}
        }
      }
    },
    {
      "data": {"name": "novartis"},
      "mark": {"type": "line", "strokeWidth": 3.7, "strokeJoin": "round", "strokeCap": "round"},
      "encoding": {"color": {"datum": "Novartis", "type": "nominal"}}
    },
    {
      "data": {"name": "roche"},
      "mark": {"type": "line", "strokeWidth": 3.7, "strokeJoin": "round", "strokeCap": "round"},
      "encoding": {"color": {"datum": "Roche GS", "type": "nominal"}}
    },
    {
      "data": {"name": "nestle"},
      "mark": {"type": "line", "strokeWidth": 3.7, "strokeJoin": "round", "strokeCap": "round"},
      "encoding": {"color": {"datum": "Nestlé", "type": "nominal"}}
    }
  ]
}
